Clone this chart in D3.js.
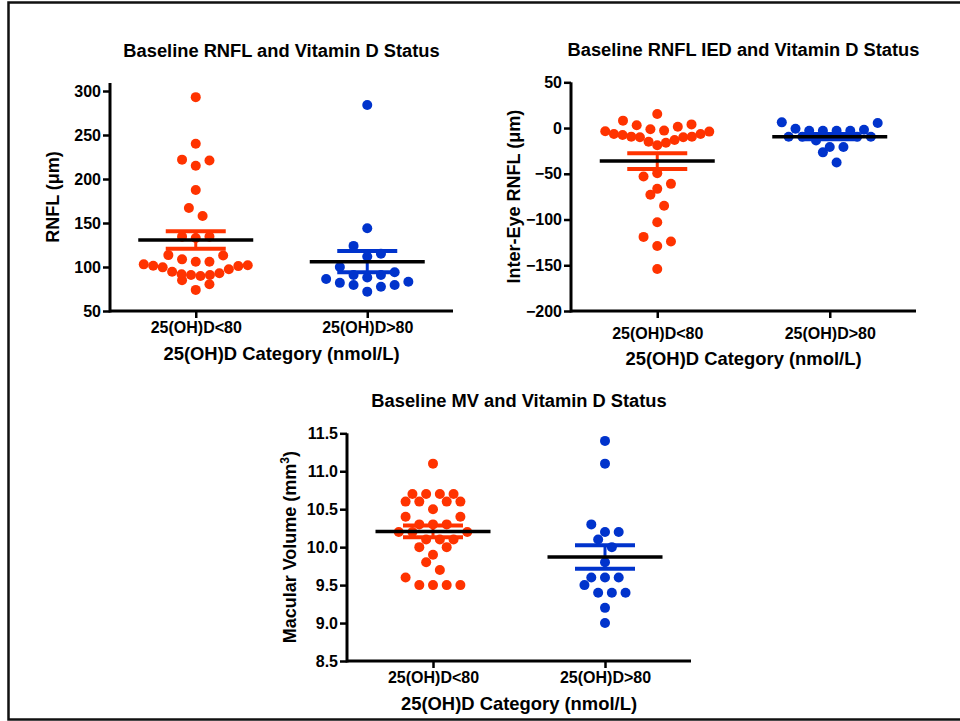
<!DOCTYPE html>
<html>
<head>
<meta charset="utf-8">
<script src="https://cdn.jsdelivr.net/npm/d3@7"></script>
<style>
  body { margin: 0; background: #fff; }
  svg { display: block; font-family: "Liberation Sans", Arial, sans-serif; font-weight: bold; }
</style>
</head>
<body>
<svg id="chart" width="960" height="721"></svg>
<script>
'use strict'

// the two vitamin D groups on every x axis
const categories = ["25(OH)D<80", "25(OH)D>80"];

// baseline RNFL (um)
const rnflLow = [293, 240, 222, 221, 215, 187.5, 167, 158, 133, 134.5, 134.5, 113.5, 113, 108.7, 106, 106,
	103, 101, 99.6, 101.5, 102, 94.7, 92.8, 97.4, 91.7, 91, 89.8, 91, 85, 80.3, 74];
const rnflHigh = [284, 144, 124, 112, 115, 100, 94, 91, 91, 88, 86.4, 83.3, 82, 79.5, 79.5, 77.6, 72];
const rnflTicks = [50, 100, 150, 200, 250, 300];

// inter-eye RNFL difference (um)
const iedLow = [15.4, 8.1, 4, 3, 1.5, -1.4, -2.8, -3.6, -3.9, -6.5, -6.5, -7.6, -9.4, -9.4, -10, -10, -13, -15, -16, -18.9,
	-49.3, -53, -61, -66.5, -73, -85, -103, -119, -124, -129, -154];
const iedHigh = [6.2, 5.5, -0.8, -1.9, -2.9, -2.9, -2.9, -2.9, -9.5, -9.5, -9.5, -9.5, -13.5, -20.8, -20.8, -26.6, -37.6];
const iedTicks = [50, 0, -50, -100, -150, -200];

// macular volume (mm3)
const mvLow = [11.1, 10.7, 10.7, 10.7, 10.7, 10.6, 10.6, 10.6, 10.6, 10.5, 10.4, 10.4, 10.3, 10.3, 10.3,
	10.2, 10.2, 10.2, 10.1, 10.1, 10.1, 10.0, 10.0, 9.9, 9.8, 9.7, 9.6, 9.5, 9.5, 9.5, 9.5];
const mvHigh = [11.4, 11.1, 10.3, 10.2, 10.2, 10.1, 10.0, 9.8, 9.6, 9.6, 9.6, 9.5, 9.4, 9.4, 9.4, 9.2, 9.0];
const mvTicks = [8.5, 9.0, 9.5, 10.0, 10.5, 11.0, 11.5];

const groupColors = ["#ff3300", "#0033cc"];

const svg = d3.select("#chart");

// outer frame
svg.append("rect")
	.attr("x", 8.5).attr("y", 2.5)
	.attr("width", 1000).attr("height", 717)
	.attr("fill", "none").attr("stroke", "#111").attr("stroke-width", 2.5);

// GraphPad style scatter: bin points into rows, spread each row symmetrically
function swarm(values, binH, spacing, maxSpread){
	var sorted = values.slice().sort(function(a, b){ return a - b; });
	var out = [];
	var i = 0;
	while(i < sorted.length){
		var start = sorted[i];
		var bin = [];
		while(i < sorted.length && sorted[i] < start + binH - 1e-9){
			bin.push(sorted[i++]);
		}
		var n = bin.length;
		var gap = n > 1 ? Math.min(spacing, maxSpread / (n - 1)) : 0;
		var j = 0, slot = 0.5;
		if(n % 2){
			out.push({v: bin[0], dx: 0});
			j = 1; slot = 1;
		}
		for(; j < n; j += 2){
			// smaller value goes right, larger one left
			out.push({v: bin[j], dx: slot * gap});
			out.push({v: bin[j + 1], dx: -slot * gap});
			slot += 1;
		}
	}
	return out;
}

function drawPanel(p){
	var g = svg.append("g");
	var x = d3.scalePoint().domain(categories).range([p.x0, p.x1]).padding(0.5);
	var y = d3.scaleLinear().domain(p.domain).range([p.yBottom, p.yTop]);
	var axisTop = p.yTop - p.overshoot;

	// y axis
	var yAxis = g.append("g")
		.attr("transform", "translate(" + p.x0 + ",0)")
		.call(d3.axisLeft(y).tickValues(p.ticks).tickSize(7).tickPadding(2).tickSizeOuter(0).tickFormat(p.fmt));
	yAxis.select(".domain").remove();
	yAxis.append("line")
		.attr("y1", p.yBottom + 1.5).attr("y2", axisTop)
		.attr("stroke", "#000").attr("stroke-width", 3);

	// x axis
	var xAxis = g.append("g")
		.attr("transform", "translate(0," + p.yBottom + ")")
		.call(d3.axisBottom(x).tickSize(7).tickPadding(4 + p.shift).tickSizeOuter(0));
	xAxis.select(".domain").remove();
	xAxis.append("line")
		.attr("x1", p.x0).attr("x2", p.x1)
		.attr("stroke", "#000").attr("stroke-width", 3);

	g.selectAll(".tick line").attr("stroke", "#000").attr("stroke-width", 2.5);
	g.selectAll(".tick text")
		.attr("fill", "#000")
		.style("font-size", "16px")
		.style("font-family", "'Liberation Sans', Arial, sans-serif")
		.style("font-weight", "bold");

	// titles
	g.append("text")
		.attr("x", (p.x0 + p.x1) / 2).attr("y", axisTop - 32.5).attr("dy", "0.35em")
		.attr("text-anchor", "middle").style("font-size", "18.3px")
		.text(p.title);

	g.append("text")
		.attr("x", (p.x0 + p.x1) / 2).attr("y", p.yBottom + 42.3 + p.shift).attr("dy", "0.35em")
		.attr("text-anchor", "middle").style("font-size", "18.4px")
		.text("25(OH)D Category (nmol/L)");

	var yl = g.append("text")
		.attr("transform", "translate(" + (p.x0 - 57) + "," + ((p.yBottom + axisTop) / 2) + ") rotate(-90)")
		.attr("dy", "0.35em")
		.attr("text-anchor", "middle").style("font-size", "18px");
	yl.append("tspan").text(p.yLabel);
	if(p.sup){
		yl.append("tspan").attr("baseline-shift", "super").style("font-size", "12px").text(p.sup);
		yl.append("tspan").text(")");
	}

	var binH = 0.0624 * Math.abs(p.ticks[p.ticks.length - 1] - p.ticks[0]);

	p.series.forEach(function(vals, i){
		var cx = x(categories[i]);
		var col = groupColors[i];
		var pts = swarm(vals, binH, 13.7, 104);

		g.append("g").selectAll("circle")
			.data(pts).enter()
			.append("circle")
			.attr("cx", function(d){ return cx + d.dx; })
			.attr("cy", function(d){ return y(d.v); })
			.attr("r", 5)
			.attr("fill", col);

		var m = d3.mean(vals);
		var sem = d3.deviation(vals) / Math.sqrt(vals.length);

		// SEM bars
		g.append("line")
			.attr("x1", cx).attr("x2", cx)
			.attr("y1", y(m + sem)).attr("y2", y(m - sem))
			.attr("stroke", col).attr("stroke-width", 3);
		[m + sem, m - sem].forEach(function(v){
			g.append("line")
				.attr("x1", cx - 30).attr("x2", cx + 30)
				.attr("y1", y(v)).attr("y2", y(v))
				.attr("stroke", col).attr("stroke-width", 4);
		});

		// mean
		g.append("line")
			.attr("x1", cx - 57.5).attr("x2", cx + 57.5)
			.attr("y1", y(m)).attr("y2", y(m))
			.attr("stroke", "#000").attr("stroke-width", 3.5);
	});
}

drawPanel({
	title: "Baseline RNFL and Vitamin D Status",
	yLabel: "RNFL (\u03bcm)",
	series: [rnflLow, rnflHigh],
	ticks: rnflTicks, domain: [50, 300], fmt: d3.format("d"),
	x0: 110, x1: 453, yBottom: 311, yTop: 91, overshoot: 8, shift: 0
});

drawPanel({
	title: "Baseline RNFL IED and Vitamin D Status",
	yLabel: "Inter-Eye RNFL (\u03bcm)",
	series: [iedLow, iedHigh],
	ticks: iedTicks, domain: [-200, 50], fmt: d3.format("d"),
	x0: 571, x1: 916, yBottom: 311, yTop: 82.3, overshoot: 0, shift: 5.6
});

drawPanel({
	title: "Baseline MV and Vitamin D Status",
	yLabel: "Macular Volume (mm", sup: "3",
	series: [mvLow, mvHigh],
	ticks: mvTicks, domain: [8.5, 11.5], fmt: d3.format(".1f"),
	x0: 347, x1: 691, yBottom: 661, yTop: 433.3, overshoot: 0, shift: 0
});
</script>
</body>
</html>
